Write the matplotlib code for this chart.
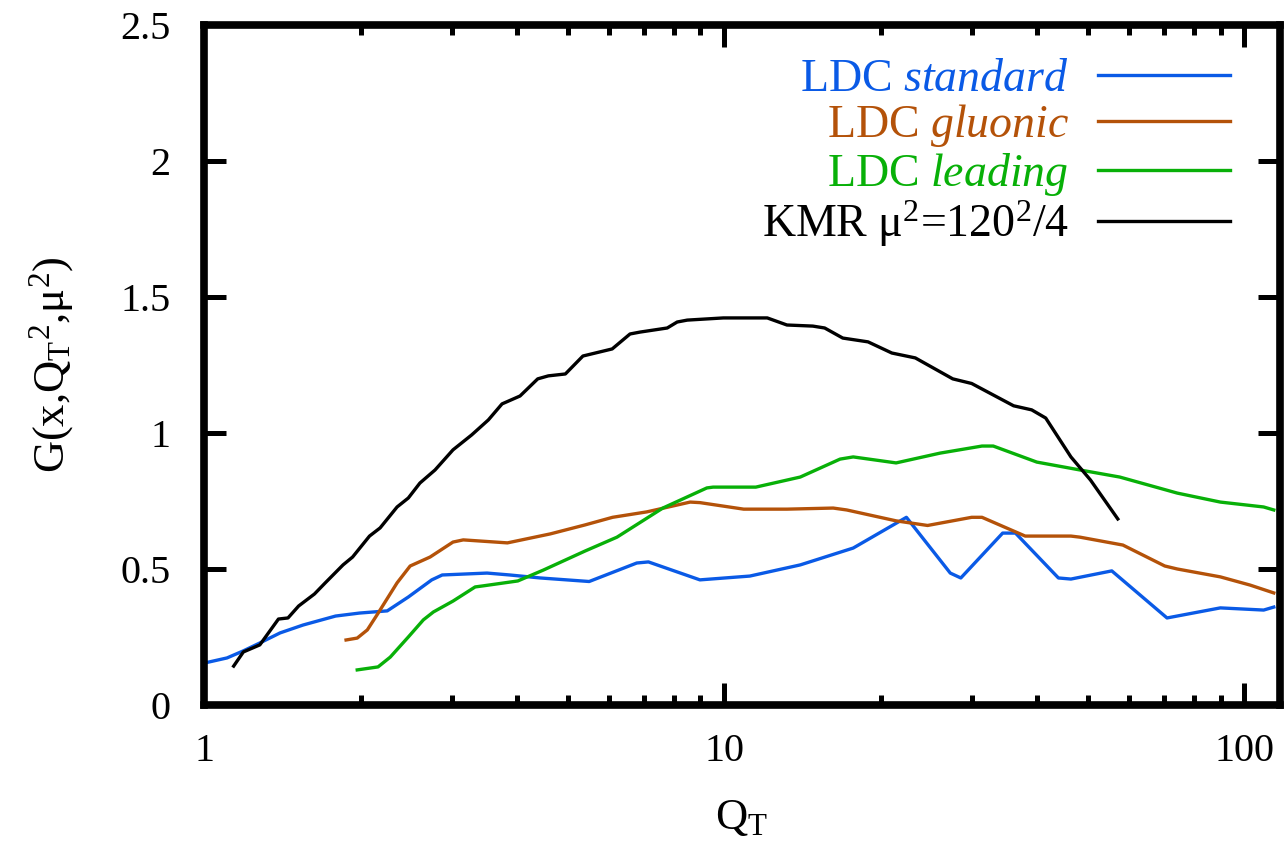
import numpy as np
import matplotlib
matplotlib.use("Agg")
import matplotlib.pyplot as plt
from matplotlib.ticker import LogLocator, FixedLocator, NullFormatter

plt.rcParams['font.family'] = ['Liberation Serif', 'DejaVu Serif']
plt.rcParams['mathtext.fontset'] = 'custom'
plt.rcParams['mathtext.rm'] = 'Liberation Serif'
plt.rcParams['mathtext.it'] = 'Liberation Serif:italic'
plt.rcParams['mathtext.bf'] = 'Liberation Serif:bold'

# =========================
# data
# =========================
q_std = [1.0, 1.107, 1.19, 1.28, 1.40, 1.55, 1.79, 1.99, 2.25, 2.47, 2.74, 2.87, 3.50,
         3.87, 4.43, 5.5, 6.79, 7.15, 8.98, 11.2, 14.0, 17.7, 22.4, 27.2, 28.5, 34.3,
         36.3, 43.9, 46.4, 55.6, 71.0, 89.9, 108.9, 113.9]
g_std = [0.154, 0.173, 0.199, 0.228, 0.265, 0.294, 0.327, 0.338, 0.346, 0.397, 0.46, 0.478,
         0.485, 0.478, 0.467, 0.454, 0.522, 0.526, 0.46, 0.474, 0.515, 0.577, 0.69, 0.485,
         0.467, 0.632, 0.632, 0.467, 0.463, 0.493, 0.32, 0.357, 0.349, 0.36]

q_glu = [1.875, 1.97, 2.06, 2.15, 2.35, 2.49, 2.72, 3.01, 3.15, 3.83, 4.63, 5.4, 6.1,
         7.1, 8.6, 8.98, 10.9, 13.2, 16.2, 17.2, 21.4, 24.6, 29.9, 31.3, 37.9, 46.4,
         48.3, 58.4, 70.3, 74.3, 89.9, 102.5, 113.9]
g_glu = [0.239, 0.246, 0.276, 0.331, 0.449, 0.511, 0.544, 0.599, 0.607, 0.596, 0.629, 0.662,
         0.69, 0.71, 0.746, 0.744, 0.72, 0.72, 0.724, 0.717, 0.677, 0.66, 0.69, 0.69,
         0.621, 0.621, 0.617, 0.588, 0.511, 0.5, 0.471, 0.441, 0.412]

q_lead = [1.97, 2.16, 2.28, 2.47, 2.64, 2.76, 3.01, 3.32, 3.44, 4.01, 4.49, 5.4, 6.22,
          7.62, 9.26, 9.52, 11.5, 14.0, 16.7, 17.7, 21.4, 26.0, 31.3, 32.9, 39.9, 48.3,
          57.6, 74.3, 89.9, 108.9, 113.9]
g_lead = [0.129, 0.14, 0.176, 0.25, 0.313, 0.342, 0.382, 0.434, 0.438, 0.456, 0.496, 0.566,
          0.617, 0.724, 0.798, 0.801, 0.801, 0.838, 0.904, 0.912, 0.89, 0.926, 0.952, 0.952,
          0.893, 0.864, 0.838, 0.779, 0.746, 0.728, 0.717]

q_kmr = [1.14, 1.19, 1.28, 1.39, 1.45, 1.52, 1.63, 1.71, 1.85, 1.93, 2.08, 2.18, 2.35,
         2.47, 2.60, 2.78, 3.01, 3.27, 3.52, 3.74, 4.05, 4.38, 4.59, 4.95, 5.35, 6.09,
         6.59, 6.89, 7.77, 8.12, 8.49, 9.96, 11.4, 12.1, 13.2, 14.8, 15.6, 16.9, 18.9,
         21.0, 23.3, 27.5, 29.9, 36.0, 39.0, 41.5, 46.4, 50.6, 57.1]
g_kmr = [0.143, 0.195, 0.221, 0.316, 0.32, 0.364, 0.408, 0.449, 0.515, 0.544, 0.621, 0.651,
         0.728, 0.761, 0.816, 0.864, 0.938, 0.993, 1.048, 1.107, 1.136, 1.199, 1.21, 1.217,
         1.283, 1.309, 1.364, 1.371, 1.386, 1.408, 1.415, 1.423, 1.423, 1.423, 1.397, 1.393,
         1.386, 1.349, 1.335, 1.294, 1.276, 1.199, 1.182, 1.1, 1.085, 1.055, 0.912, 0.827,
         0.684]

labels = [r"LDC $\mathit{standard}$", r"LDC $\mathit{gluonic}$",
          r"LDC $\mathit{leading}$", r"KMR μ$^2$=120$^2$/4"]
colors = ["#0a5ae6", "#b45209", "#08b008", "#000000"]

# =========================
# plot
# =========================
fig = plt.figure(figsize=(12.85, 8.44), dpi=100)
ax = fig.add_axes([0.1588, 0.1647, 0.8372, 0.8057])

series = [(q_std, g_std), (q_glu, g_glu), (q_lead, g_lead), (q_kmr, g_kmr)]
for (q, g), lab, c in zip(series, labels, colors):
    ax.plot(q, g, color=c, lw=2.4, label=lab)

ax.set_xscale('log')
ax.set_xlim(1, 117)
ax.set_ylim(0, 2.5)

ax.xaxis.set_major_locator(FixedLocator([1, 10, 100]))
ax.set_xticklabels(["1", "10", "100"])
ax.xaxis.set_minor_locator(LogLocator(base=10, subs=np.arange(2, 10)))
ax.xaxis.set_minor_formatter(NullFormatter())
ax.set_yticks([0, 0.5, 1, 1.5, 2, 2.5])
ax.set_yticklabels(["0", "0.5", "1", "1.5", "2", "2.5"])

for s in ax.spines.values():
    s.set_linewidth(5.5)
ax.tick_params(which='both', direction='in', top=True, right=True,
               width=3.6, labelsize=29)
ax.tick_params(which='major', length=16)
ax.tick_params(which='minor', length=7)
ax.tick_params(axis='x', pad=20)
ax.tick_params(axis='y', pad=24)

ax.set_xlabel(r"Q$_\mathrm{T}$", fontsize=32, labelpad=20)
ax.set_ylabel(r"G(x,Q$_\mathrm{T}$$^2$,μ$^2$)", fontsize=32, labelpad=32)

ax.legend(loc='upper right', bbox_to_anchor=(0.9535, 0.951), frameon=False,
          markerfirst=False, labelcolor='linecolor', fontsize=33,
          borderaxespad=0, borderpad=0,
          handlelength=2.88, handletextpad=0.63, labelspacing=0.03)

plt.savefig("out.png", dpi=100)
